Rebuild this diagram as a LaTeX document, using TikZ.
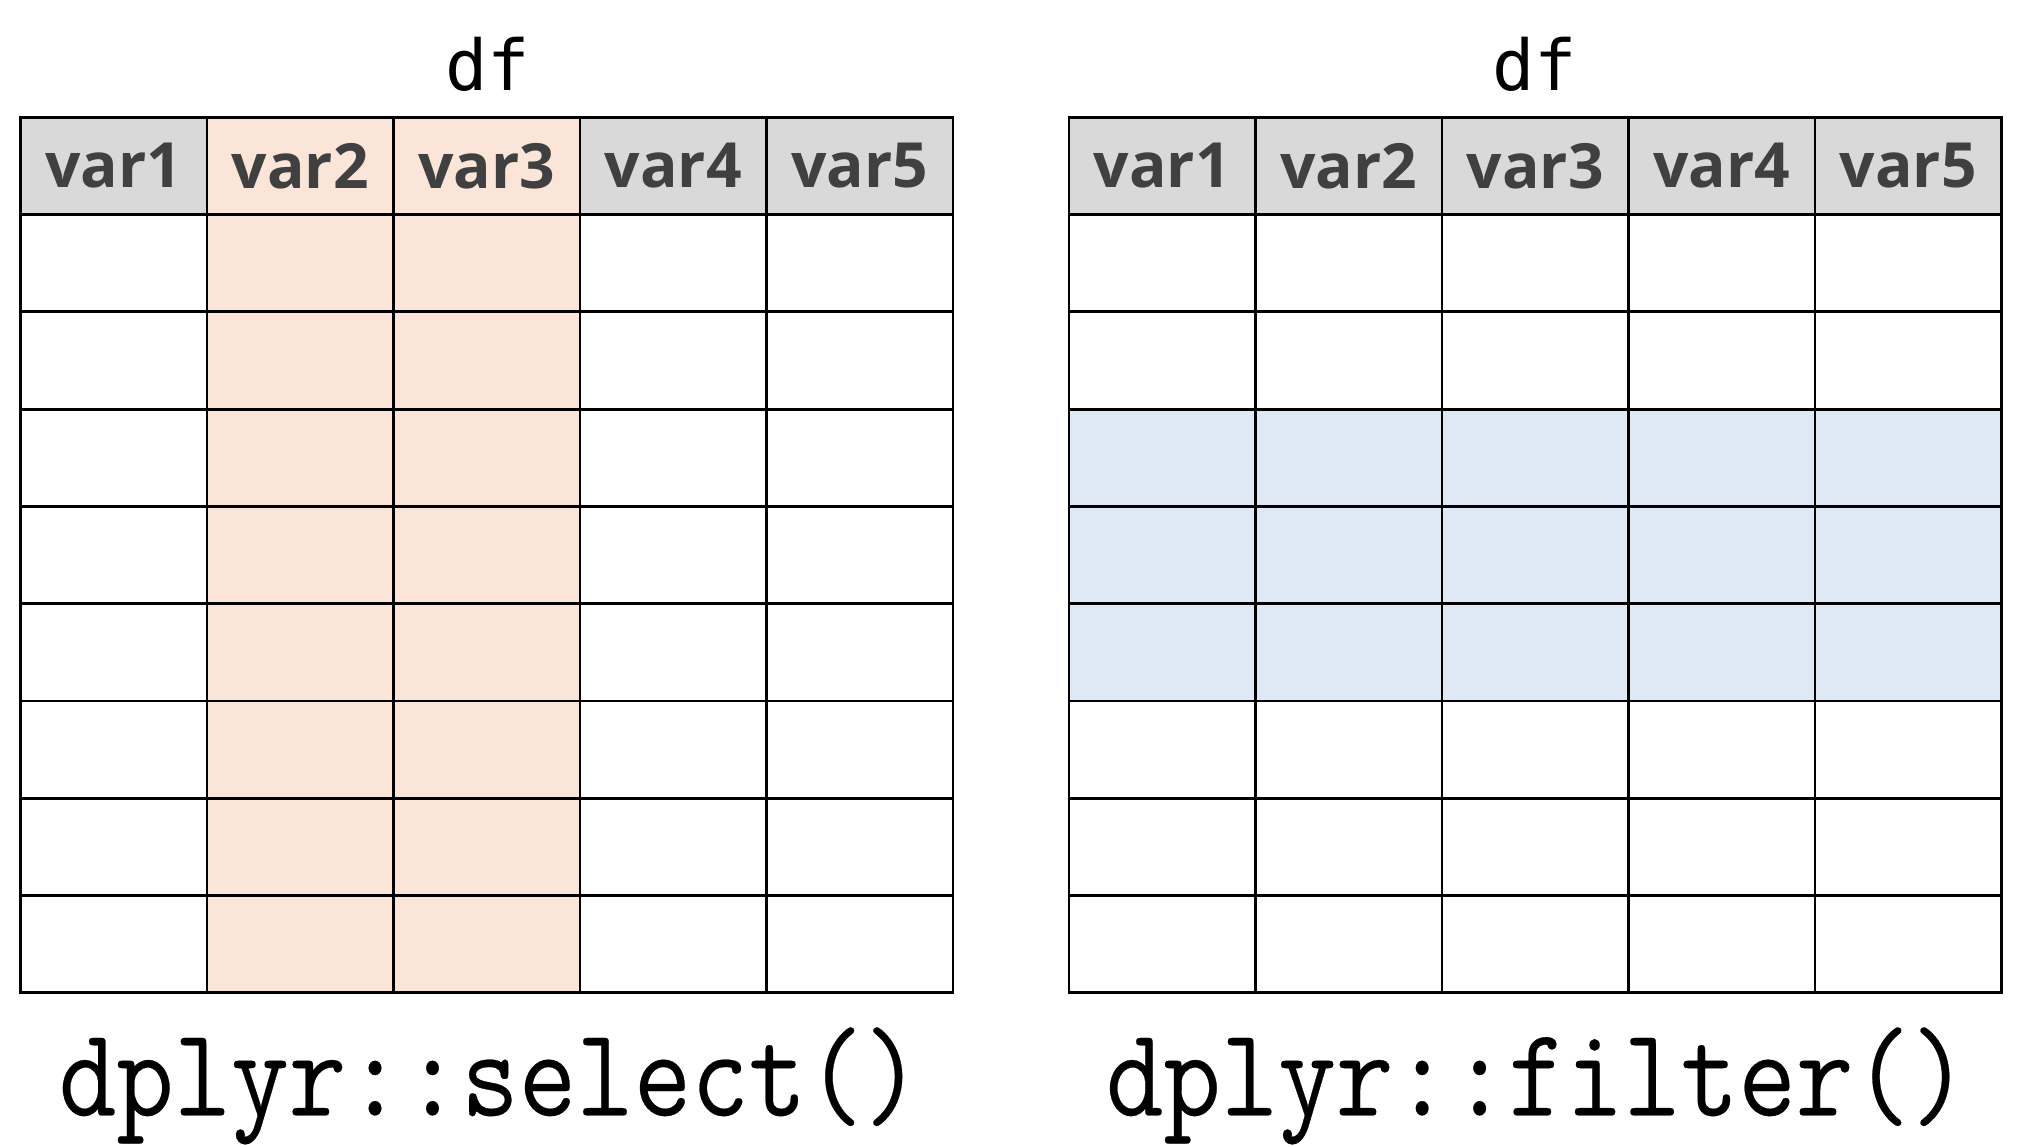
\documentclass[tikz,border=0pt]{standalone}
\usepackage{fontspec}
\newfontfamily\hdrfont{Open Sans}
\newfontfamily\dffont{DejaVu Sans Mono}
\newfontfamily\codefont{Latin Modern Mono}[FakeStretch=0.88,FakeBold=0.2]
\definecolor{hdrgray}{HTML}{D9D9D9}
\definecolor{hdrtext}{HTML}{404040}
\definecolor{selorange}{HTML}{FAE5D8}
\definecolor{filtblue}{HTML}{DEE9F5}
\begin{document}
\begin{tikzpicture}[x=0.02cm,y=-0.02cm,
  cell/.style={draw=black,line width=1.2pt,rectangle,inner sep=0pt,outer sep=0pt,
    minimum width=2.892cm,minimum height=1.508cm,anchor=north west,fill=white},
  hdr/.style={cell,fill=hdrgray,text=hdrtext,font=\hdrfont\bfseries\fontsize{27.5}{30}\selectfont},
  sel/.style={fill=selorange},
  filt/.style={fill=filtblue},
  dflabel/.style={font=\dffont\fontsize{31}{34}\selectfont,anchor=base,inner sep=0pt},
  code/.style={font=\codefont\fontsize{56}{60}\selectfont,anchor=base,inner sep=0pt}]
\useasboundingbox (0,0) rectangle (1568,888);
\fill[white] (0,0) rectangle (1568,888);
% left table (select)
\foreach \c in {1,...,5}{
  \pgfmathsetmacro{\xx}{16+(\c-1)*144.6}
  \ifnum\c=2 \def\extra{sel}\else\ifnum\c=3 \def\extra{sel}\else\def\extra{}\fi\fi
  \node[hdr,\extra] (L-0-\c) at (\xx,91) {\raisebox{-5.5pt}{var\c}};
  \foreach \r in {1,...,8}{
    \pgfmathsetmacro{\yy}{91+\r*75.43}
    \node[cell,\extra] (L-\r-\c) at (\xx,\yy) {};
  }
}
% right table (filter)
\foreach \c in {1,...,5}{
  \pgfmathsetmacro{\xx}{829+(\c-1)*144.6}
  \node[hdr] (R-0-\c) at (\xx,91) {\raisebox{-5.5pt}{var\c}};
  \foreach \r in {1,...,8}{
    \pgfmathsetmacro{\yy}{91+\r*75.43}
    \ifnum\r<3 \def\extra{}\else\ifnum\r>5 \def\extra{}\else\def\extra{filt}\fi\fi
    \node[cell,\extra] (R-\r-\c) at (\xx,\yy) {};
  }
}
\node[dflabel] (dfL) at (378,70) {df};
\node[dflabel] (dfR) at (1190,70) {df};
\node[code] (selL) at (380,865) {dplyr::select()};
\node[code] (filtR) at (1192,865) {dplyr::filter()};
\end{tikzpicture}
\end{document}
